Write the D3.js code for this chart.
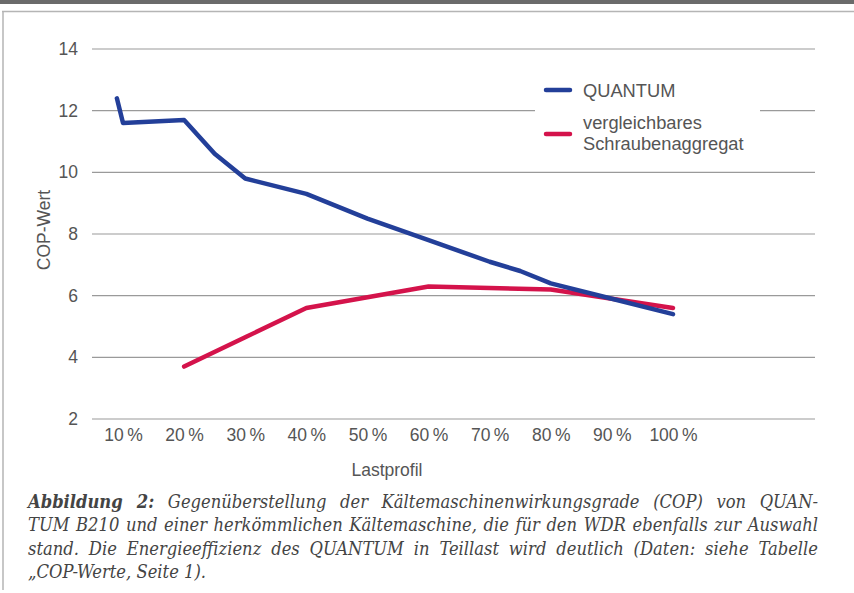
<!DOCTYPE html>
<html><head><meta charset="utf-8">
<script src="https://cdn.jsdelivr.net/npm/d3@7"></script>
<style>body{margin:0;background:#fff}svg{display:block}</style>
</head><body>
<script>
const xTicks = [10,20,30,40,50,60,70,80,90,100];
const yTicks = [2,4,6,8,10,12,14];
const quantumX = [9,10,20,25,30,40,50,60,70,75,80,90,100];
const quantumY = [12.4,11.6,11.7,10.6,9.8,9.3,8.5,7.8,7.1,6.8,6.4,5.9,5.4];
const screwX = [20,30,40,50,60,80,90,100];
const screwY = [3.7,4.65,5.6,5.95,6.3,6.2,5.9,5.6];
const seriesNames = ["QUANTUM", ["vergleichbares","Schraubenaggregat"]];
const captionLines = [
  ["Abbildung 2:", " Gegenüberstellung der Kältemaschinenwirkungsgrade (COP) von QUAN-"],
  ["", "TUM B210 und einer herkömmlichen Kältemaschine, die für den WDR ebenfalls zur Auswahl"],
  ["", "stand. Die Energieeffizienz des QUANTUM in Teillast wird deutlich (Daten: siehe Tabelle"],
  ["", "„COP-Werte, Seite 1)."]
];

const W=854,H=593;
const svg=d3.select("body").append("svg").attr("width",W).attr("height",H);
// top band and frame
svg.append("rect").attr("x",0).attr("y",0).attr("width",W).attr("height",4).attr("fill","#6b6b6b");
svg.append("line").attr("x1",2).attr("x2",W).attr("y1",11.5).attr("y2",11.5).attr("stroke","#b5b5b5").attr("stroke-width",1.5);
svg.append("line").attr("x1",3).attr("x2",3).attr("y1",11).attr("y2",590).attr("stroke","#b5b5b5").attr("stroke-width",1.5);

const x=d3.scaleLinear().domain([10,100]).range([123,673]);
const y=d3.scaleLinear().domain([2,14]).range([419,49]);
const grey="#555";
const font="'Liberation Sans', Arial, sans-serif";
const fs=17.5;

// grid
const g=svg.append("g");
g.selectAll("line.grid").data(yTicks).join("line")
  .attr("x1",92).attr("x2",815).attr("y1",d=>y(d)).attr("y2",d=>y(d))
  .attr("stroke","#9a9a9a").attr("stroke-width",1.2);
// y axis
const yAxis=d3.axisLeft(y).tickValues(yTicks).tickSize(0).tickPadding(0);
const ya=svg.append("g").attr("transform","translate(78,0)").call(yAxis);
ya.select(".domain").remove();
ya.selectAll("text").attr("font-family",font).attr("font-size",fs).attr("fill",grey);
// x axis
const xAxis=d3.axisBottom(x).tickValues(xTicks).tickSize(0).tickPadding(0).tickFormat(d=>d+"\u2009%");
const xa=svg.append("g").attr("transform","translate(0,429)").call(xAxis);
xa.select(".domain").remove();
xa.selectAll("text").attr("font-family",font).attr("font-size",fs).attr("fill",grey);

svg.append("text").attr("x",387).attr("y",476).attr("text-anchor","middle")
  .attr("font-family",font).attr("font-size",fs).attr("fill",grey).text("Lastprofil");
svg.append("text").attr("transform","translate(50,230) rotate(-90)").attr("text-anchor","middle")
  .attr("font-family",font).attr("font-size",fs).attr("fill",grey).text("COP-Wert");

// lines
const blue="#233f99", red="#d4134b";
const line=d3.line().x(d=>x(d[0])).y(d=>y(d[1]));
svg.append("path").datum(screwX.map((v,i)=>[v,screwY[i]])).attr("d",line)
  .attr("fill","none").attr("stroke",red).attr("stroke-width",4.5).attr("stroke-linejoin","round").attr("stroke-linecap","round");
svg.append("path").datum(quantumX.map((v,i)=>[v,quantumY[i]])).attr("d",line)
  .attr("fill","none").attr("stroke",blue).attr("stroke-width",4.5).attr("stroke-linejoin","round").attr("stroke-linecap","round");

// legend
svg.append("rect").attr("x",535).attr("y",70).attr("width",225).attr("height",95).attr("fill","#fff");
svg.append("line").attr("x1",546).attr("x2",570).attr("y1",90).attr("y2",90).attr("stroke",blue).attr("stroke-width",4.5).attr("stroke-linecap","round");
svg.append("line").attr("x1",546).attr("x2",570).attr("y1",134).attr("y2",134).attr("stroke",red).attr("stroke-width",4.5).attr("stroke-linecap","round");
const lfs=18.3;
svg.append("text").attr("x",583).attr("y",96.5).attr("font-family",font).attr("font-size",lfs).attr("fill",grey).text(seriesNames[0]);
svg.append("text").attr("x",583).attr("y",129).attr("font-family",font).attr("font-size",lfs).attr("fill",grey).text(seriesNames[1][0]);
svg.append("text").attr("x",583).attr("y",150).attr("font-family",font).attr("font-size",lfs).attr("fill",grey).text(seriesNames[1][1]);

// caption
const serif="'DejaVu Serif Condensed','Liberation Serif',serif";
const capW=790;
captionLines.forEach((ln,i)=>{
  const t=svg.append("text").attr("x",28).attr("y",508+i*23.3)
    .attr("font-family",serif).attr("font-size",18.2).attr("font-style","italic").attr("fill","#444");
  if(ln[0]) t.append("tspan").attr("font-weight","bold").text(ln[0]);
  t.append("tspan").text(ln[1]);
  if(i<3){
    const full=(ln[0]+ln[1]);
    const gaps=(full.match(/ /g)||[]).length;
    const w=t.node().getComputedTextLength();
    if(gaps>0) t.attr("word-spacing",(capW-w)/gaps);
  }
});
</script>
</body></html>
